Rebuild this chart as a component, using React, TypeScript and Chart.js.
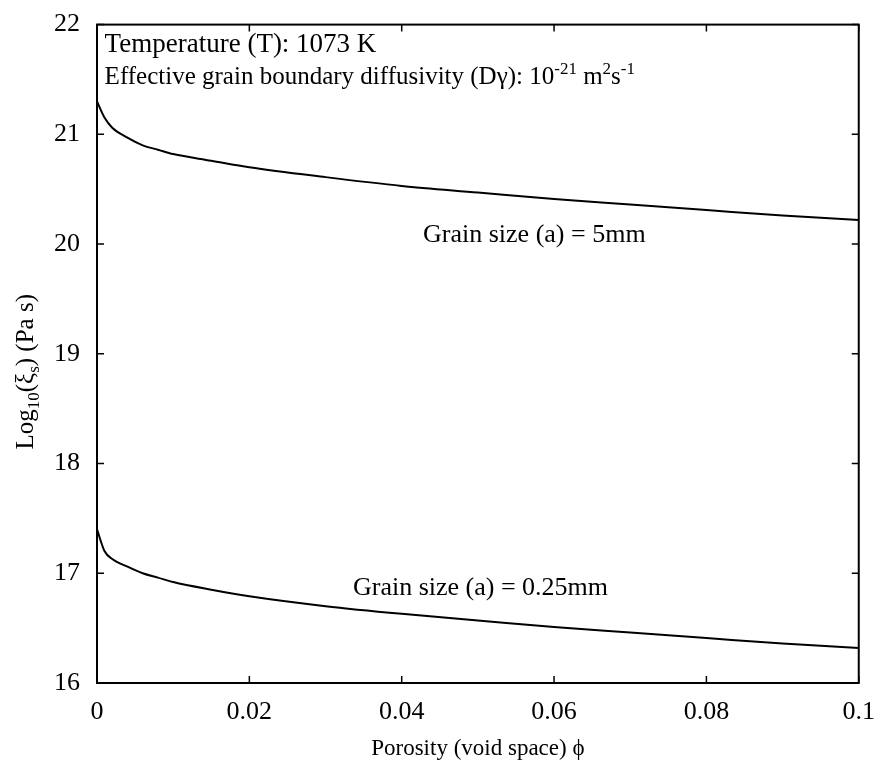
import React, { useEffect, useRef } from "react";
import { Chart, registerables } from "chart.js";

Chart.register(...registerables);

// Porosity values (x)
const porosity = [0, 0.001, 0.002, 0.004, 0.006, 0.008, 0.01, 0.015, 0.02, 0.03, 0.04, 0.05, 0.06, 0.07, 0.08, 0.09, 0.1];
// Log10 viscosity, grain size 5 mm
const grain5mm = [21.3, 21.15, 21.06, 20.97, 20.9, 20.86, 20.82, 20.76, 20.7, 20.61, 20.53, 20.47, 20.41, 20.36, 20.31, 20.26, 20.22];
// Log10 viscosity, grain size 0.25 mm
const grain025mm = [17.4, 17.2, 17.13, 17.06, 17.0, 16.96, 16.92, 16.85, 16.79, 16.7, 16.63, 16.57, 16.51, 16.46, 16.41, 16.36, 16.32];

const xTickValues = [0, 0.02, 0.04, 0.06, 0.08, 0.1];
const xTickLabels = ["0", "0.02", "0.04", "0.06", "0.08", "0.1"];
const yTickValues = [16, 17, 18, 19, 20, 21, 22];
const yTickLabels = ["16", "17", "18", "19", "20", "21", "22"];

const FONT = "'Liberation Serif', 'Times New Roman', serif";

type Seg = { t: string; m?: "sub" | "sup" };

function segFont(m: Seg["m"], size: number) {
  return `${m ? Math.round(size * 0.68) : size}px ${FONT}`;
}

function richWidth(ctx: CanvasRenderingContext2D, segs: Seg[], size: number) {
  let w = 0;
  for (const s of segs) {
    ctx.font = segFont(s.m, size);
    w += ctx.measureText(s.t).width;
  }
  return w;
}

function drawRich(ctx: CanvasRenderingContext2D, segs: Seg[], x: number, y: number, size: number, align: "left" | "center") {
  const w = richWidth(ctx, segs, size);
  let cx = align === "center" ? x - w / 2 : x;
  ctx.textAlign = "left";
  ctx.textBaseline = "alphabetic";
  for (const s of segs) {
    ctx.font = segFont(s.m, size);
    const dy = s.m === "sub" ? size * 0.25 : s.m === "sup" ? -size * 0.38 : 0;
    ctx.fillText(s.t, cx, y + dy);
    cx += ctx.measureText(s.t).width;
  }
}

const annotations: { segs: Seg[]; x: number; y: number; size: number }[] = [
  { segs: [{ t: "Temperature (T): 1073 K" }], x: 0.001, y: 21.75, size: 27 },
  {
    segs: [
      { t: "Effective grain boundary diffusivity (Dγ): 10" },
      { t: "-21", m: "sup" },
      { t: " m" },
      { t: "2", m: "sup" },
      { t: "s" },
      { t: "-1", m: "sup" },
    ],
    x: 0.001,
    y: 21.46,
    size: 25,
  },
  { segs: [{ t: "Grain size (a) = 5mm" }], x: 0.0428, y: 20.02, size: 26 },
  { segs: [{ t: "Grain size (a) = 0.25mm" }], x: 0.0336, y: 16.8, size: 26 },
];

const overlayPlugin = {
  id: "overlay",
  afterDraw(chart: any) {
    const ctx: CanvasRenderingContext2D = chart.ctx;
    const { left, right, top, bottom } = chart.chartArea;
    const xs = chart.scales.x;
    const ys = chart.scales.y;
    ctx.save();
    ctx.strokeStyle = "#000";
    ctx.fillStyle = "#000";
    ctx.lineWidth = 2;
    ctx.strokeRect(left, top, right - left, bottom - top);
    const tl = 7;
    ctx.lineWidth = 1.5;
    ctx.beginPath();
    for (const v of xTickValues) {
      const px = xs.getPixelForValue(v);
      ctx.moveTo(px, bottom);
      ctx.lineTo(px, bottom - tl);
      ctx.moveTo(px, top);
      ctx.lineTo(px, top + tl);
    }
    for (const v of yTickValues) {
      const py = ys.getPixelForValue(v);
      ctx.moveTo(left, py);
      ctx.lineTo(left + tl, py);
      ctx.moveTo(right, py);
      ctx.lineTo(right - tl, py);
    }
    ctx.stroke();

    for (const a of annotations) {
      drawRich(ctx, a.segs, xs.getPixelForValue(a.x), ys.getPixelForValue(a.y), a.size, "left");
    }

    // x-axis title
    drawRich(ctx, [{ t: "Porosity (void space) ϕ" }], (left + right) / 2, 755, 23, "center");

    // y-axis title
    ctx.save();
    ctx.translate(33, (top + bottom) / 2 + 18);
    ctx.rotate(-Math.PI / 2);
    drawRich(
      ctx,
      [{ t: "Log" }, { t: "10", m: "sub" }, { t: "(ξ" }, { t: "s", m: "sub" }, { t: ") (Pa s)" }],
      0,
      0,
      25,
      "center"
    );
    ctx.restore();
    ctx.restore();
  },
};

export default function App() {
  const ref = useRef<HTMLCanvasElement>(null);
  useEffect(() => {
    if (!ref.current) return;
    const chart = new Chart(ref.current, {
      type: "line",
      data: {
        datasets: [
          {
            label: "Grain size (a) = 5mm",
            data: porosity.map((x, i) => ({ x, y: grain5mm[i] })),
            borderColor: "#000",
            borderWidth: 2,
            pointRadius: 0,
            cubicInterpolationMode: "monotone",
            fill: false,
          },
          {
            label: "Grain size (a) = 0.25mm",
            data: porosity.map((x, i) => ({ x, y: grain025mm[i] })),
            borderColor: "#000",
            borderWidth: 2,
            pointRadius: 0,
            cubicInterpolationMode: "monotone",
            fill: false,
          },
        ],
      },
      options: {
        animation: false,
        responsive: true,
        maintainAspectRatio: false,
        layout: { padding: { top: 16, right: 21, left: 0, bottom: 0 } },
        plugins: { legend: { display: false }, tooltip: { enabled: false } },
        scales: {
          x: {
            type: "linear",
            min: 0,
            max: 0.1,
            grid: { display: false },
            border: { display: false },
            afterBuildTicks: (s: any) => {
              s.ticks = xTickValues.map((value) => ({ value }));
            },
            afterFit: (s: any) => {
              s.height = 82;
            },
            ticks: {
              color: "#000",
              padding: 6,
              font: { family: FONT, size: 26 },
              maxRotation: 0,
              callback: (v: any) => {
                const i = xTickValues.findIndex((t) => Math.abs(t - Number(v)) < 1e-9);
                return i >= 0 ? xTickLabels[i] : "";
              },
            },
          },
          y: {
            type: "linear",
            min: 16,
            max: 22,
            grid: { display: false },
            border: { display: false },
            afterBuildTicks: (s: any) => {
              s.ticks = yTickValues.map((value) => ({ value }));
            },
            afterFit: (s: any) => {
              s.width = 97;
            },
            ticks: {
              color: "#000",
              padding: 9,
              font: { family: FONT, size: 26 },
              callback: (v: any) => {
                const i = yTickValues.findIndex((t) => Math.abs(t - Number(v)) < 1e-9);
                return i >= 0 ? yTickLabels[i] : "";
              },
            },
          },
        },
      },
      plugins: [overlayPlugin],
    });
    return () => chart.destroy();
  }, []);
  return (
    <div style={{ position: "fixed", left: 0, top: 0, width: 881, height: 765, background: "#fff" }}>
      <canvas ref={ref} />
    </div>
  );
}
